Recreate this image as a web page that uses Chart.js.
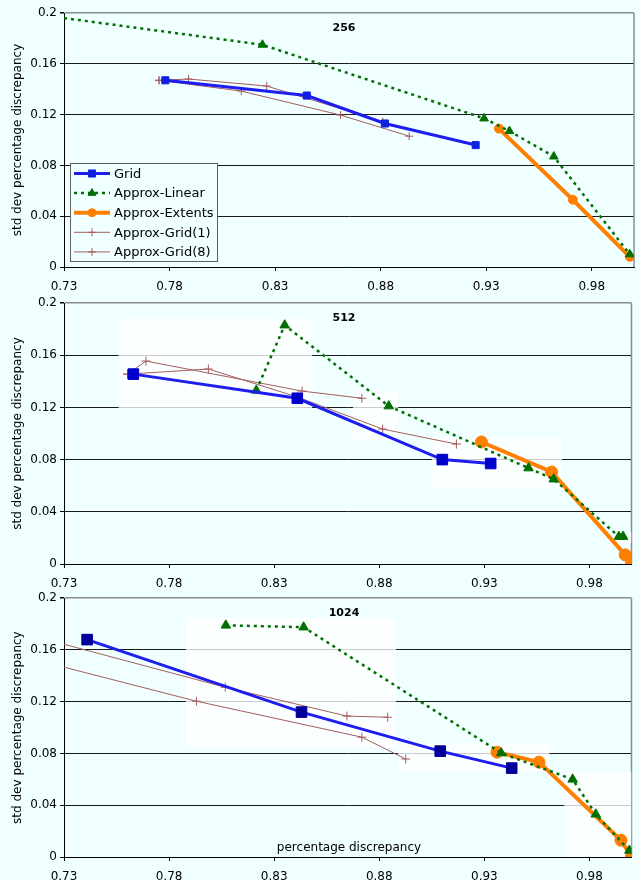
<!DOCTYPE html>
<html>
<head>
<meta charset="utf-8">
<script src="https://cdn.jsdelivr.net/npm/chart.js@4.4.1/dist/chart.umd.min.js"></script>
<style>
  html, body { margin: 0; padding: 0; background: #f0ffff; }
  .panel { position: absolute; left: 0; width: 640px; }
  canvas { display: block; }
</style>
</head>
<body>
<div class="panel" style="top:0px"><canvas id="c256" width="640" height="291"></canvas></div>
<div class="panel" style="top:291px"><canvas id="c512" width="640" height="297"></canvas></div>
<div class="panel" style="top:588px"><canvas id="c1024" width="640" height="292"></canvas></div>
<script>
const seriesNames = ['Grid', 'Approx-Linear', 'Approx-Extents', 'Approx-Grid(1)', 'Approx-Grid(8)'];
const xTicks = [0.73, 0.78, 0.83, 0.88, 0.93, 0.98];
const yTicks = [0, 0.04, 0.08, 0.12, 0.16, 0.2];

// 256
const grid256 = [[0.778, 0.147], [0.845, 0.135], [0.882, 0.113], [0.925, 0.096]];
const linear256 = [[0.73, 0.196], [0.824, 0.175], [0.929, 0.117], [0.941, 0.107], [0.962, 0.087], [0.998, 0.01]];
const extents256 = [[0.936, 0.109], [0.971, 0.053], [0.998, 0.008]];
const approx1_256 = [[0.775, 0.147], [0.789, 0.148], [0.826, 0.1425], [0.881, 0.1145]];
const approx8_256 = [[0.775, 0.147], [0.814, 0.1385], [0.861, 0.1196], [0.8935, 0.103]];

// 512
const grid512 = [[0.763, 0.1455], [0.841, 0.127], [0.910, 0.080], [0.933, 0.077]];
const linear512 = [[0.8215, 0.133], [0.835, 0.183], [0.8845, 0.121], [0.951, 0.0735], [0.963, 0.065], [0.994, 0.021], [0.996, 0.021]];
const extents512 = [[0.9286, 0.0935], [0.962, 0.0705], [0.997, 0.007], [1.0, 0.001]];
const approx1_512 = [[0.7603, 0.1455], [0.769, 0.1555], [0.8433, 0.1325], [0.8717, 0.127]];
const approx8_512 = [[0.7603, 0.1455], [0.7987, 0.1494], [0.841, 0.128], [0.8816, 0.1034], [0.9167, 0.0919]];

// 1024
const grid1024 = [[0.741, 0.168], [0.843, 0.112], [0.909, 0.0818], [0.943, 0.0687]];
const linear1024 = [[0.807, 0.179], [0.844, 0.1776], [0.938, 0.0803], [0.972, 0.060], [0.983, 0.033], [0.999, 0.005]];
const extents1024 = [[0.936, 0.081], [0.956, 0.0733], [0.995, 0.013], [1.0, 0.0]];
const approx1_1024 = [[0.73, 0.1644], [0.8067, 0.1312], [0.8646, 0.1089], [0.884, 0.108]];
const approx8_1024 = [[0.73, 0.1467], [0.793, 0.1204], [0.8717, 0.0926], [0.8926, 0.0757]];

// whitish patches in the scanned picture: [x0, y0, x1, y1]
const patches512 = [[0.756, 0.188, 0.848, 0.1195], [0.8675, 0.132, 0.889, 0.095], [0.905, 0.097, 0.967, 0.0575], [0.9926, 0.0245, 1.0, 0.016]];
const patches1024 = [[0.788, 0.185, 0.888, 0.085], [0.889, 0.088, 0.961, 0.0656], [0.968, 0.0656, 1.0, -0.01]];

const X_MIN = 0.73, X_MAX = 1.0;
const lineColors = ['#1d1df0', '#007000', '#ff8000', '#a35d5d', '#a35d5d'];

Chart.defaults.font.family = "'DejaVu Sans', sans-serif";
Chart.defaults.font.size = 12;
Chart.defaults.color = '#000';

function toPts(arr) { return arr.map(p => ({ x: p[0], y: p[1] })); }

function makeSets(series, sz) {
  const hideEdge = r => c => (c.raw && c.raw.x <= X_MIN ? 0 : r);
  return [
    { label: seriesNames[0], data: toPts(series[0]), borderColor: lineColors[0], borderWidth: 3,
      pointStyle: 'rect', pointRadius: sz.sq, pointBackgroundColor: sz.sqColor, pointBorderColor: sz.sqColor, pointBorderWidth: 1 },
    { label: seriesNames[1], data: toPts(series[1]), borderColor: lineColors[1], borderWidth: 2.5, borderDash: [3, 4],
      pointStyle: 'triangle', pointRadius: hideEdge(sz.tri), pointBackgroundColor: lineColors[1], pointBorderColor: lineColors[1], pointBorderWidth: 1 },
    { label: seriesNames[2], data: toPts(series[2]), borderColor: lineColors[2], borderWidth: 4,
      pointStyle: 'circle', pointRadius: sz.circ, pointBackgroundColor: lineColors[2], pointBorderColor: lineColors[2], pointBorderWidth: 1 },
    { label: seriesNames[3], data: toPts(series[3]), borderColor: lineColors[3], borderWidth: 1,
      pointStyle: 'cross', pointRadius: hideEdge(sz.cross), pointBackgroundColor: lineColors[3], pointBorderColor: lineColors[3], pointBorderWidth: 1 },
    { label: seriesNames[4], data: toPts(series[4]), borderColor: lineColors[4], borderWidth: 1,
      pointStyle: 'cross', pointRadius: hideEdge(sz.cross), pointBackgroundColor: lineColors[4], pointBorderColor: lineColors[4], pointBorderWidth: 1 }
  ].map(d => Object.assign(d, { showLine: true, fill: false, tension: 0 }));
}

const decor = {
  id: 'decor',
  beforeDatasetsDraw(chart, args, opts) {
    const { ctx, chartArea: a, scales: { x, y } } = chart;
    ctx.save();
    ctx.strokeStyle = '#8c8c8c';
    ctx.lineWidth = 1.5;
    ctx.beginPath();
    ctx.moveTo(a.right, a.top);
    ctx.lineTo(a.right, a.bottom);
    ctx.stroke();
    ctx.beginPath();
    ctx.rect(a.left, a.top, a.width, a.height);
    ctx.clip();
    ctx.fillStyle = 'rgba(255,255,255,0.78)';
    (opts.patches || []).forEach(p => {
      const x0 = x.getPixelForValue(p[0]), y0 = y.getPixelForValue(p[1]);
      const x1 = x.getPixelForValue(p[2]), y1 = y.getPixelForValue(p[3]);
      ctx.fillRect(x0, y0, x1 - x0, y1 - y0);
    });
    ctx.restore();
  },
  afterDatasetsDraw(chart, args, opts) {
    const { ctx, chartArea: a } = chart;
    ctx.save();
    ctx.fillStyle = '#000';
    ctx.font = "bold 11px 'DejaVu Sans'";
    ctx.textAlign = 'center';
    ctx.textBaseline = 'middle';
    ctx.fillText(opts.title, a.left + 280, a.top + 15);
    if (opts.xTitle) {
      ctx.font = "12px 'DejaVu Sans'";
      ctx.fillText(opts.xTitle, a.left + 285, a.bottom - 9);
    }
    if (opts.legend) {
      const bx = a.left + 6, by = a.bottom - 104, bw = 147, bh = 98;
      ctx.fillStyle = '#f0ffff';
      ctx.fillRect(bx, by, bw, bh);
      ctx.strokeStyle = '#606060';
      ctx.lineWidth = 1;
      ctx.strokeRect(bx + 0.5, by + 0.5, bw, bh);
      const legendR = [5, 4.5, 4, 4, 4];
      chart.data.datasets.forEach((ds, i) => {
        const ry = by + 10.5 + i * 19.6;
        ctx.save();
        ctx.strokeStyle = ds.borderColor;
        ctx.lineWidth = ds.borderWidth;
        ctx.setLineDash(ds.borderDash || []);
        ctx.beginPath();
        ctx.moveTo(bx + 4, ry);
        ctx.lineTo(bx + 40, ry);
        ctx.stroke();
        ctx.setLineDash([]);
        ctx.fillStyle = ds.pointBackgroundColor;
        ctx.strokeStyle = ds.pointBorderColor;
        ctx.lineWidth = ds.pointBorderWidth;
        Chart.helpers.drawPoint(ctx, { pointStyle: ds.pointStyle, radius: legendR[i], borderWidth: 1, rotation: 0 }, bx + 22, ry);
        ctx.restore();
        ctx.fillStyle = '#000';
        ctx.font = "13px 'DejaVu Sans'";
        ctx.textAlign = 'left';
        ctx.fillText(ds.label, bx + 44, ry + 1);
      });
    }
    ctx.restore();
  }
};

function makeChart(id, series, sz, layout, decorOpts) {
  return new Chart(document.getElementById(id), {
    type: 'scatter',
    data: { datasets: makeSets(series, sz) },
    plugins: [decor],
    options: {
      responsive: false,
      animation: false,
      layout: { padding: { top: layout.top, right: 0, left: 0, bottom: 0 } },
      plugins: {
        legend: { display: false },
        tooltip: { enabled: false },
        decor: decorOpts
      },
      scales: {
        x: {
          type: 'linear', min: X_MIN, max: X_MAX,
          afterBuildTicks: s => { s.ticks = xTicks.map(v => ({ value: v })); },
          afterFit: s => { s.height = layout.axisH; },
          ticks: { callback: v => v.toFixed(2), padding: 9, maxRotation: 0, font: { size: 12 } },
          grid: { drawOnChartArea: false, drawTicks: true, tickLength: 4, tickColor: '#000' },
          border: { color: '#000', width: 1 }
        },
        y: {
          type: 'linear', min: 0, max: 0.2,
          afterBuildTicks: s => { s.ticks = yTicks.map(v => ({ value: v })); },
          afterFit: s => { s.width = 64; },
          ticks: { callback: v => String(+v.toFixed(2)), padding: 3, font: { size: 12 } },
          grid: {
            color: c => (c.tick && c.tick.value >= 0.2 ? '#8c8c8c' : '#1a1a1a'),
            lineWidth: c => (c.tick && c.tick.value >= 0.2 ? 1.5 : 1),
            tickLength: 4, tickColor: '#000'
          },
          border: { color: '#000', width: 1 },
          title: { display: true, text: 'std dev percentage discrepancy', font: { size: 12 }, padding: { top: 11, bottom: 0 } }
        }
      }
    }
  });
}

const small = { sq: 5, sqColor: '#1020e0', tri: 5, circ: 4.5, cross: 4 };
makeChart('c256', [grid256, linear256, extents256, approx1_256, approx8_256], small,
  { top: 13, axisH: 24 }, { title: '256', legend: true, patches: [] });
makeChart('c512', [grid512, linear512, extents512, approx1_512, approx8_512],
  { sq: 7.5, sqColor: '#0000cc', tri: 5.5, circ: 6, cross: 4.5 },
  { top: 12, axisH: 24 }, { title: '512', patches: patches512 });
makeChart('c1024', [grid1024, linear1024, extents1024, approx1_1024, approx8_1024],
  { sq: 7.5, sqColor: '#000099', tri: 5.5, circ: 6, cross: 4.5 },
  { top: 10, axisH: 23 }, { title: '1024', xTitle: 'percentage discrepancy', patches: patches1024 });
</script>
</body>
</html>
